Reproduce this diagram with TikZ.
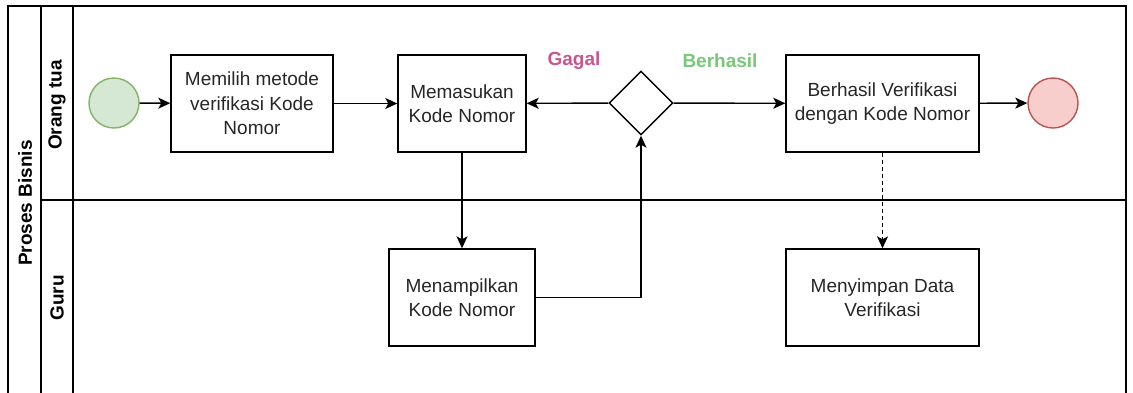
\documentclass[tikz,border=0pt]{standalone}
\usepackage{fontspec}
\setmainfont{Liberation Sans}
\usetikzlibrary{arrows.meta,shapes.geometric}
\definecolor{startfill}{HTML}{D5E8D4}
\definecolor{startline}{HTML}{82B366}
\definecolor{endfill}{HTML}{F8CECC}
\definecolor{endline}{HTML}{B85450}
\definecolor{failc}{HTML}{C9558F}
\definecolor{okc}{HTML}{78C878}
\definecolor{txt}{HTML}{262626}
\tikzset{
  task/.style={draw, line width=1.4pt, minimum width=#1, minimum height=97pt,
    align=center, text=txt, font=\fontsize{19}{24.5}\selectfont, inner sep=3pt},
  task/.default=162pt,
  event/.style={circle, draw, line width=1.4pt, minimum size=50pt, inner sep=0pt},
  gate/.style={diamond, draw, line width=1.4pt, minimum width=64pt, minimum height=64pt, inner sep=0pt, aspect=1},
  flow/.style={line width=1.4pt, -{Stealth[length=12pt,width=11pt,inset=3pt]}},
  lane/.style={line width=1.4pt},
  title/.style={font=\bfseries\fontsize{19}{22}\selectfont, rotate=90},
  guard/.style={font=\bfseries\fontsize{19}{22}\selectfont}
}
\begin{document}
\begin{tikzpicture}[x=1pt,y=-1pt]
\useasboundingbox (0,0) rectangle (1133,392);
\begin{scope}
\clip (0,0) rectangle (1133,392);
% pool and lanes
\draw[lane] (8,400) -- (8,6) -- (1126,6) -- (1126,400);
\draw[lane] (41,6) -- (41,400);
\draw[lane] (73,6) -- (73,400);
\draw[lane] (41,200) -- (1126,200);
\end{scope}
\node[title] (pool) at (25,203) {Proses Bisnis};
\node[title] (laneA) at (57,105) {Orang tua};
\node[title] (laneB) at (57,298) {Guru};

% parent lane
\node[event, fill=startfill, draw=startline] (start) at (114,103) {};
\node[task=162pt] (pick) at (252,103.5) {Memilih metode\\verifikasi Kode\\Nomor};
\node[task=128pt] (enter) at (462,103.5) {Memasukan\\Kode Nomor};
\node[gate] (check) at (641,103) {};
\node[task=193pt] (ok) at (882.5,103.5) {Berhasil Verifikasi\\dengan Kode Nomor};
\node[event, fill=endfill, draw=endline] (stop) at (1053,103) {};

% teacher lane
\node[task=146pt] (show) at (462,297.5) {Menampilkan\\Kode Nomor};
\node[task=193pt] (save) at (882.5,297.5) {Menyimpan Data\\Verifikasi};

% guard labels
\node[guard, text=failc] (lfail) at (574,61) {Gagal};
\node[guard, text=okc] (lok) at (720,61) {Berhasil};

% flows
\draw[flow] (start) -- (pick);
\draw[flow] (pick) -- (enter);
\draw[flow] (check) -- (enter);
\draw[flow] (check) -- (ok);
\draw[flow] (ok) -- (stop);
\draw[flow] (enter) -- (show);
\draw[flow] (show.east) -| (check.south);
\draw[flow, dashed, dash pattern=on 4pt off 3pt] (ok) -- (save);
\end{tikzpicture}
\end{document}
